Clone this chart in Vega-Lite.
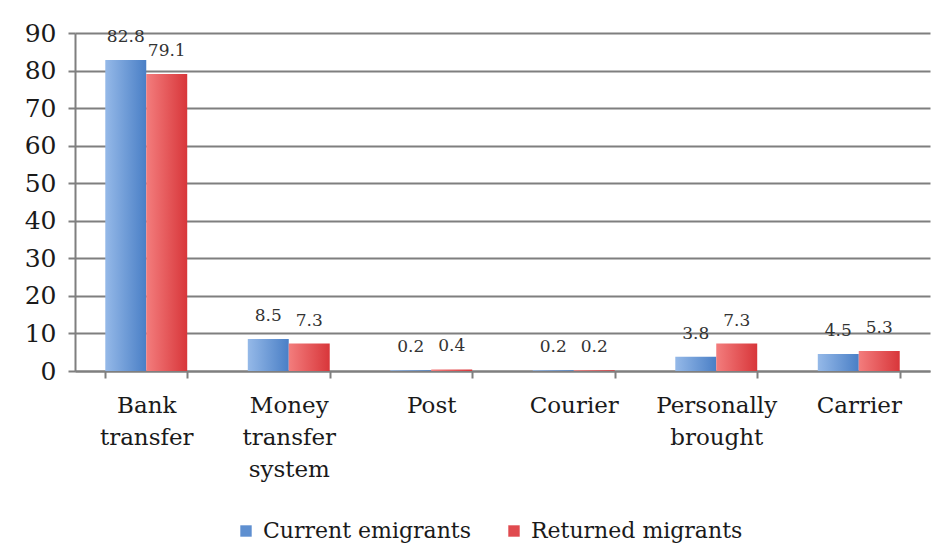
{
  "$schema": "https://vega.github.io/schema/vega-lite/v6.json",
  "autosize": {"type": "none"},
  "width": 855,
  "height": 338,
  "padding": {"left": 75, "top": 33, "right": 15, "bottom": 189},
  "background": "white",
  "config": {
    "font": "DejaVu Serif",
    "view": {"stroke": null}
  },
  "data": {
    "values": [
      {"method": "Bank transfer", "group": "Current emigrants", "value": 82.8},
      {"method": "Bank transfer", "group": "Returned migrants", "value": 79.1},
      {"method": "Money transfer system", "group": "Current emigrants", "value": 8.5},
      {"method": "Money transfer system", "group": "Returned migrants", "value": 7.3},
      {"method": "Post", "group": "Current emigrants", "value": 0.2},
      {"method": "Post", "group": "Returned migrants", "value": 0.4},
      {"method": "Courier", "group": "Current emigrants", "value": 0.2},
      {"method": "Courier", "group": "Returned migrants", "value": 0.2},
      {"method": "Personally brought", "group": "Current emigrants", "value": 3.8},
      {"method": "Personally brought", "group": "Returned migrants", "value": 7.3},
      {"method": "Carrier", "group": "Current emigrants", "value": 4.5},
      {"method": "Carrier", "group": "Returned migrants", "value": 5.3}
    ]
  },
  "encoding": {
    "x": {
      "field": "method",
      "type": "nominal",
      "sort": null,
      "scale": {"paddingInner": 0.425, "paddingOuter": 0.2125},
      "axis": {
        "title": null,
        "labelAngle": 0,
        "labelExpr": "split(datum.label, ' ')",
        "labelFontSize": 23,
        "labelColor": "#1a1a1a",
        "labelLineHeight": 32,
        "labelPadding": 16,
        "labelBaseline": "top",
        "labelLimit": 0,
        "tickBand": "extent",
        "tickSize": 7,
        "tickColor": "#7f7f7f",
        "tickWidth": 2,
        "domainColor": "#7f7f7f",
        "domainWidth": 2,
        "grid": false
      }
    },
    "xOffset": {"field": "group", "type": "nominal", "sort": ["Current emigrants", "Returned migrants"]},
    "y": {
      "field": "value",
      "type": "quantitative",
      "scale": {"domain": [0, 90], "nice": false},
      "axis": {
        "title": null,
        "values": [0, 10, 20, 30, 40, 50, 60, 70, 80, 90],
        "labelFontSize": 25,
        "labelColor": "#1a1a1a",
        "labelPadding": 12,
        "tickSize": 7,
        "tickColor": "#7f7f7f",
        "tickWidth": 2,
        "domainColor": "#7f7f7f",
        "domainWidth": 2,
        "gridColor": "#7f7f7f",
        "gridWidth": 2,
        "gridOpacity": 1
      }
    }
  },
  "layer": [
    {
      "mark": {"type": "bar", "opacity": 0},
      "encoding": {
        "color": {
          "field": "group",
          "type": "nominal",
          "scale": {
            "domain": ["Current emigrants", "Returned migrants"],
            "range": ["#5e8fd0", "#e04a4f"]
          },
          "legend": {
            "title": null,
            "orient": "none",
            "direction": "horizontal",
            "legendX": 160,
            "legendY": 487,
            "symbolType": "square",
            "symbolSize": 130,
            "symbolOpacity": 1,
            "symbolStrokeWidth": 0,
            "labelFontSize": 22,
            "labelLimit": 0,
            "labelColor": "#1a1a1a",
            "labelOffset": 6,
            "columnPadding": 32
          }
        }
      }
    },
    {
      "mark": {"type": "bar"},
      "encoding": {
        "fill": {
          "condition": {
            "test": "datum.group === 'Current emigrants'",
            "value": {"gradient": "linear", "x1": 0, "y1": 0, "x2": 1, "y2": 0, "stops": [{"offset": 0, "color": "#95b9e8"}, {"offset": 1, "color": "#4a7fc6"}]}
          },
          "value": {"gradient": "linear", "x1": 0, "y1": 0, "x2": 1, "y2": 0, "stops": [{"offset": 0, "color": "#f37d7d"}, {"offset": 1, "color": "#d8363a"}]}
        }
      }
    },
    {
      "mark": {"type": "text", "baseline": "bottom", "dy": -14, "fontSize": 17, "color": "#333333"},
      "encoding": {
        "text": {"field": "value", "type": "quantitative", "format": ".1f"}
      }
    }
  ]
}
